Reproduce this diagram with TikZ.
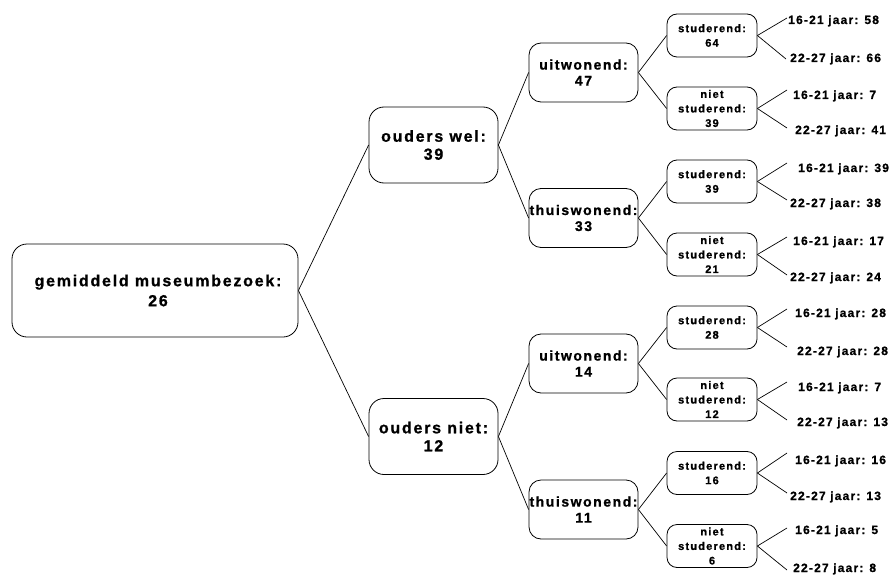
\documentclass[tikz,border=0pt]{standalone}
\usepackage{fontspec}
\setmainfont{Liberation Sans}
\newfontfamily\boxfont{Liberation Sans}[LetterSpace=11, BoldFeatures={FakeBold=1}]
\newfontfamily\leaffont{Liberation Sans}[LetterSpace=10, BoldFeatures={FakeBold=1}]
\begin{document}
\begin{tikzpicture}[x=1pt,y=-1pt,
  every node/.style={inner sep=0pt},
  anybox/.style={draw, line width=0.8pt, align=center},
  rootbox/.style={anybox, rounded corners=15pt, minimum width=286pt, minimum height=93pt,
    font=\boxfont\bfseries\fontsize{16}{20}\selectfont},
  parbox/.style={anybox, rounded corners=15pt, minimum width=129pt, minimum height=76pt,
    font=\boxfont\bfseries\fontsize{16}{18}\selectfont},
  livbox/.style={anybox, rounded corners=12pt, minimum width=109pt, minimum height=59pt,
    font=\boxfont\bfseries\fontsize{14}{16}\selectfont},
  studbox/.style={anybox, rounded corners=10pt, minimum width=90pt, minimum height=43pt,
    font=\boxfont\bfseries\fontsize{11}{14.5}\selectfont},
  leaf/.style={anchor=base west, font=\leaffont\bfseries\fontsize{12}{14}\selectfont},
  conn/.style={line width=0.7pt}
]
\useasboundingbox (0,0) rectangle (893,575);

% boxes
\node[rootbox] (root) at (155,290.5) {\hspace*{6pt}gemiddeld museumbezoek:\\\hspace*{6pt}26};
\node[parbox] (ow) at (433.5,145) {ouders wel:\\39};
\node[parbox] (on) at (433.5,436.5) {ouders niet:\\12};
\node[livbox] (u1) at (583.5,72.5) {uitwonend:\\47};
\node[livbox] (t1) at (583.5,218) {thuiswonend:\\33};
\node[livbox] (u2) at (583.5,363.5) {uitwonend:\\14};
\node[livbox] (t2) at (583.5,509.5) {thuiswonend:\\11};
\node[studbox] (s1) at (712,35.5) {studerend:\\64};
\node[studbox] (n1) at (712,108.5) {niet\\studerend:\\39};
\node[studbox] (s2) at (712,181.5) {studerend:\\39};
\node[studbox] (n2) at (712,254.5) {niet\\studerend:\\21};
\node[studbox] (s3) at (712,327.5) {studerend:\\28};
\node[studbox] (n3) at (712,399.5) {niet\\studerend:\\12};
\node[studbox] (s4) at (712,473) {studerend:\\16};
\node[studbox] (n4) at (712,546) {niet\\studerend:\\6};

% connectors between boxes
\draw[conn] (root.east) -- (ow.west);
\draw[conn] (root.east) -- (on.west);
\draw[conn] (ow.east) -- (u1.west);
\draw[conn] (ow.east) -- (t1.west);
\draw[conn] (on.east) -- (u2.west);
\draw[conn] (on.east) -- (t2.west);
\draw[conn] (u1.east) -- (s1.west);
\draw[conn] (u1.east) -- (n1.west);
\draw[conn] (t1.east) -- (s2.west);
\draw[conn] (t1.east) -- (n2.west);
\draw[conn] (u2.east) -- (s3.west);
\draw[conn] (u2.east) -- (n3.west);
\draw[conn] (t2.east) -- (s4.west);
\draw[conn] (t2.east) -- (n4.west);

% leaves
\node[leaf] (l1a) at (788,24) {16-21 jaar: 58};
\node[leaf] (l1b) at (790,62) {22-27 jaar: 66};
\node[leaf] (l2a) at (793,99) {16-21 jaar: 7};
\node[leaf] (l2b) at (795,134) {22-27 jaar: 41};
\node[leaf] (l3a) at (798,172) {16-21 jaar: 39};
\node[leaf] (l3b) at (790,207) {22-27 jaar: 38};
\node[leaf] (l4a) at (793,245) {16-21 jaar: 17};
\node[leaf] (l4b) at (790,281) {22-27 jaar: 24};
\node[leaf] (l5a) at (795,317) {16-21 jaar: 28};
\node[leaf] (l5b) at (797,355) {22-27 jaar: 28};
\node[leaf] (l6a) at (798,391) {16-21 jaar: 7};
\node[leaf] (l6b) at (797,426) {22-27 jaar: 13};
\node[leaf] (l7a) at (795,464) {16-21 jaar: 16};
\node[leaf] (l7b) at (790,500) {22-27 jaar: 13};
\node[leaf] (l8a) at (795,534) {16-21 jaar: 5};
\node[leaf] (l8b) at (793,572) {22-27 jaar: 8};

% leaf connector ends
\coordinate (e1a) at (787,18);  \coordinate (e1b) at (786,59);
\coordinate (e2a) at (787,90);  \coordinate (e2b) at (787,128);
\coordinate (e3a) at (787,163); \coordinate (e3b) at (787,200);
\coordinate (e4a) at (787,237); \coordinate (e4b) at (787,275);
\coordinate (e5a) at (787,309); \coordinate (e5b) at (787,347);
\coordinate (e6a) at (787,382); \coordinate (e6b) at (787,420);
\coordinate (e7a) at (787,453); \coordinate (e7b) at (787,493);
\coordinate (e8a) at (787,528); \coordinate (e8b) at (787,570);

\draw[conn] (s1.east) -- (e1a);
\draw[conn] (s1.east) -- (e1b);
\draw[conn] (n1.east) -- (e2a);
\draw[conn] (n1.east) -- (e2b);
\draw[conn] (s2.east) -- (e3a);
\draw[conn] (s2.east) -- (e3b);
\draw[conn] (n2.east) -- (e4a);
\draw[conn] (n2.east) -- (e4b);
\draw[conn] (s3.east) -- (e5a);
\draw[conn] (s3.east) -- (e5b);
\draw[conn] (n3.east) -- (e6a);
\draw[conn] (n3.east) -- (e6b);
\draw[conn] (s4.east) -- (e7a);
\draw[conn] (s4.east) -- (e7b);
\draw[conn] (n4.east) -- (e8a);
\draw[conn] (n4.east) -- (e8b);
\end{tikzpicture}
\end{document}
